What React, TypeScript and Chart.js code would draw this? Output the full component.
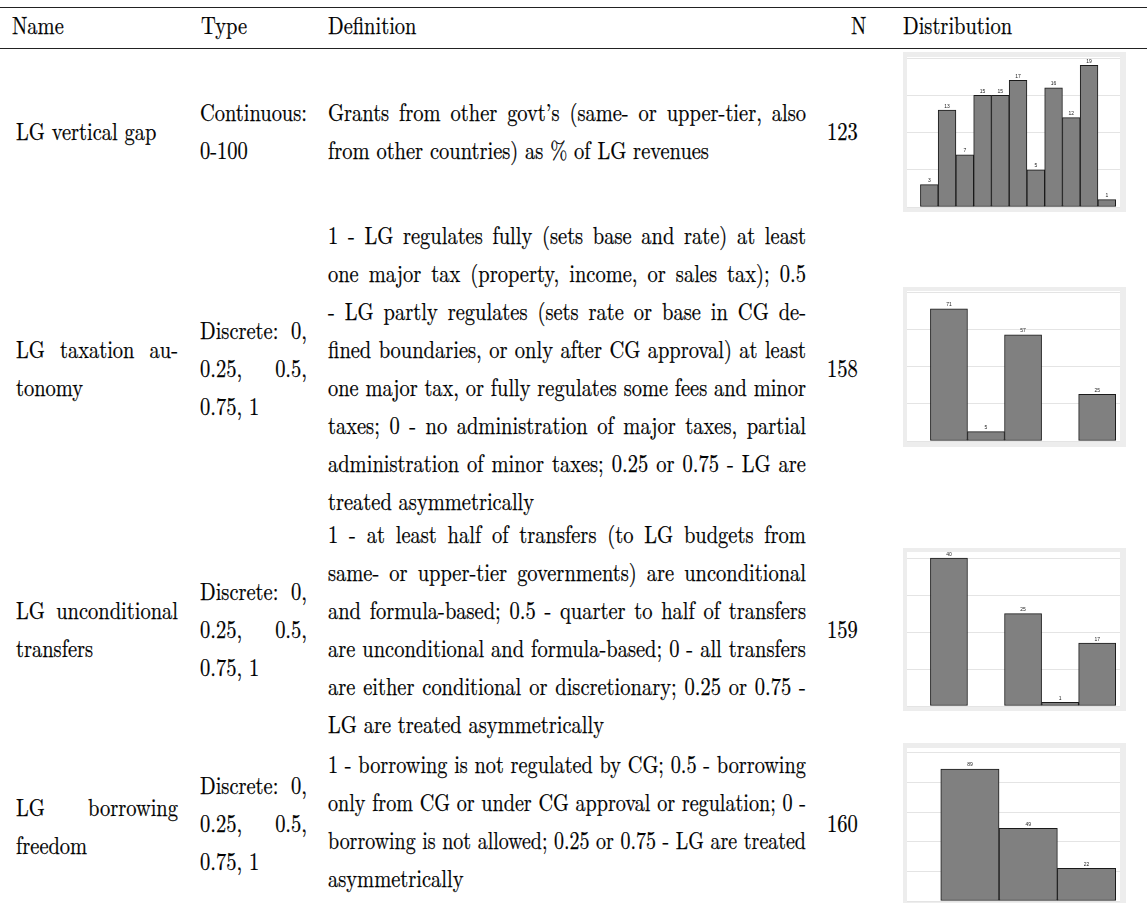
import React, { useEffect, useMemo, useRef } from "react";
import { Chart, registerables } from "chart.js";
Chart.register(...registerables);

const FS = 24.5;

// ---------- data ----------
const gapBins = ["0", "9", "18", "27", "36", "45", "55", "64", "73", "82", "91"];
const gapCounts = [3, 13, 7, 15, 15, 17, 5, 16, 12, 19, 1];
const taxBins = ["0", "0.25", "0.5", "0.75", "1"];
const taxCounts = [71, 5, 57, 0, 25];
const transferBins = ["0", "0.25", "0.5", "0.75", "1"];
const transferCounts = [40, 0, 25, 1, 17];
const borrowBins = ["0", "0.5", "1"];
const borrowCounts = [89, 49, 22];

const headers = ["Name", "Type", "Definition", "N", "Distribution"];
const names = [["LG vertical gap"], ["LG taxation au-", "tonomy"], ["LG unconditional", "transfers"], ["LG borrowing", "freedom"]];
const types = [["Continuous:", "0-100"], ["Discrete: 0,", "0.25, 0.5,", "0.75, 1"], ["Discrete: 0,", "0.25, 0.5,", "0.75, 1"], ["Discrete: 0,", "0.25, 0.5,", "0.75, 1"]];
const defs = [
  ["Grants from other govt’s (same- or upper-tier, also", "from other countries) as % of LG revenues"],
  [
    "1 - LG regulates fully (sets base and rate) at least",
    "one major tax (property, income, or sales tax); 0.5",
    "- LG partly regulates (sets rate or base in CG de-",
    "fined boundaries, or only after CG approval) at least",
    "one major tax, or fully regulates some fees and minor",
    "taxes; 0 - no administration of major taxes, partial",
    "administration of minor taxes; 0.25 or 0.75 - LG are",
    "treated asymmetrically",
  ],
  [
    "1 - at least half of transfers (to LG budgets from",
    "same- or upper-tier governments) are unconditional",
    "and formula-based; 0.5 - quarter to half of transfers",
    "are unconditional and formula-based; 0 - all transfers",
    "are either conditional or discretionary; 0.25 or 0.75 -",
    "LG are treated asymmetrically",
  ],
  [
    "1 - borrowing is not regulated by CG; 0.5 - borrowing",
    "only from CG or under CG approval or regulation; 0 -",
    "borrowing is not allowed; 0.25 or 0.75 - LG are treated",
    "asymmetrically",
  ],
];
const nValues = ["123", "158", "159", "160"];

// ---------- layout ----------
const LS = 38;
const rowCenters = [132, 369, 630, 824];
const defFirst = [113, 236, 535, 765];
const nameCenters = [132, 369, 630, 827];

let mctx: CanvasRenderingContext2D | null = null;
function ctx2d() {
  if (!mctx) mctx = document.createElement("canvas").getContext("2d");
  return mctx!;
}
function pickFamily(): string {
  const c = ctx2d();
  const test = "abcdefghijklmnopqrstuvwxyz ABCDEFGHIJ 0123456789 (),;-";
  const wOf = (f: string) => {
    c.font = `40px ${f}`;
    return c.measureText(test).width;
  };
  const cands = ["Latin Modern Roman", "CMU Serif", "Liberation Serif", "Noto Serif"];
  for (const f of cands) {
    if (wOf(`'${f}', monospace`) !== wOf("monospace")) return `'${f}', serif`;
  }
  return "serif";
}
function measure(t: string, family: string) {
  const c = ctx2d();
  c.font = `${FS}px ${family}`;
  return c.measureText(t).width;
}

type Fnt = { family: string; k: number };

function Line({ text, x, cy, w, justify, f }: { text: string; x: number; cy: number; w?: number; justify?: boolean; f: Fnt }) {
  const base: React.CSSProperties = {
    position: "absolute",
    left: x,
    top: cy - 17,
    height: 30,
    lineHeight: "30px",
    whiteSpace: "pre",
    transformOrigin: "left center",
    fontFamily: f.family,
    fontSize: FS,
    WebkitTextStroke: "0.25px #000",
  };
  const natural = measure(text, f.family);
  if (!justify || !w) {
    return <div style={{ ...base, transform: `scaleX(${f.k})` }}>{text}</div>;
  }
  const words = text.split(" ");
  const s = Math.min(f.k, w / natural);
  return (
    <div
      style={{
        ...base,
        width: w / s,
        display: "flex",
        justifyContent: words.length > 1 ? "space-between" : "flex-start",
        transform: `scaleX(${s})`,
      }}
    >
      {words.map((wd, i) => (
        <span key={i}>{wd}</span>
      ))}
    </div>
  );
}

function Cell({ lines, x, w, center, first, f }: { lines: string[]; x: number; w: number; center?: number; first?: number; f: Fnt }) {
  const n = lines.length;
  const start = first !== undefined ? first : (center as number) - ((n - 1) * LS) / 2;
  return (
    <>
      {lines.map((t, i) => (
        <Line key={i} text={t} x={x} cy={start + i * LS} w={w} justify={i < n - 1} f={f} />
      ))}
    </>
  );
}

const panelPlugin = {
  id: "panelBg",
  beforeDraw(chart: any) {
    const { ctx, chartArea: a, width, height } = chart;
    ctx.save();
    ctx.fillStyle = "#ededed";
    ctx.fillRect(0, 0, width, height);
    ctx.fillStyle = "#ffffff";
    ctx.fillRect(a.left, a.top - 1, a.right - a.left, a.bottom - a.top + 2);
    ctx.restore();
  },
};

const labelPlugin = {
  id: "valueLabels",
  afterDatasetsDraw(chart: any) {
    const { ctx } = chart;
    const meta = chart.getDatasetMeta(0);
    const data = chart.data.datasets[0].data;
    ctx.save();
    ctx.font = "5px 'Liberation Sans', Arial, sans-serif";
    ctx.fillStyle = "#222";
    ctx.textAlign = "center";
    ctx.textBaseline = "bottom";
    meta.data.forEach((el: any, i: number) => {
      const v = data[i].y;
      if (!v) return;
      ctx.fillText(String(v), el.x, el.y - 1.5);
    });
    ctx.restore();
  },
};

function MiniHist({
  bins,
  counts,
  top,
  height,
  yMax,
  step,
  padL,
  padR,
  padTop,
  padBottom,
}: {
  bins: string[];
  counts: number[];
  top: number;
  height: number;
  yMax: number;
  step: number;
  padL: number;
  padR: number;
  padTop: number;
  padBottom: number;
}) {
  const ref = useRef<HTMLCanvasElement>(null);
  useEffect(() => {
    if (!ref.current) return;
    const chart = new Chart(ref.current, {
      type: "bar",
      data: {
        labels: bins,
        datasets: [
          {
            data: counts.map((c, i) => ({ x: i, y: c })),
            backgroundColor: "#808080",
            borderColor: "#1a1a1a",
            borderWidth: 1,
            borderSkipped: false,
            barPercentage: 1,
            categoryPercentage: 1,
          },
        ],
      },
      options: {
        responsive: false,
        animation: false,
        events: [],
        layout: { padding: { left: 4, right: 6, top: padTop, bottom: padBottom } },
        plugins: { legend: { display: false }, tooltip: { enabled: false } },
        scales: {
          x: {
            type: "linear",
            display: false,
            offset: false,
            min: -0.5 - padL,
            max: counts.length - 0.5 + padR,
            ticks: { stepSize: 1, includeBounds: false },
            grid: { display: false },
          },
          y: {
            min: 0,
            max: yMax,
            ticks: { display: false, stepSize: step, includeBounds: false },
            border: { display: false },
            grid: { color: "#e4e4e4", lineWidth: 1, drawTicks: false },
            afterFit: (s: any) => {
              s.width = 0;
            },
          },
        },
      } as any,
      plugins: [panelPlugin, labelPlugin],
    });
    return () => chart.destroy();
  }, []);
  return (
    <canvas
      ref={ref}
      width={223}
      height={height}
      style={{ position: "absolute", left: 903, top, width: 223, height }}
    />
  );
}

export default function App() {
  const f: Fnt = useMemo(() => {
    const family = pickFamily();
    const k = 276 / measure("LG are treated asymmetrically", family);
    return { family, k };
  }, []);
  const rule = (top: number, h: number): React.CSSProperties => ({
    position: "absolute",
    left: 0,
    width: 1147,
    top,
    height: h,
    background: "#222",
  });
  const headerX = [12, 201, 328, 851, 903];
  return (
    <div
      style={{
        position: "fixed",
        inset: 0,
        overflow: "hidden",
        background: "#fff",
        fontFamily: f.family,
        fontSize: FS,
        color: "#000",
      }}
    >
      <div style={rule(7, 1.4)} />
      <div style={rule(48, 1.2)} />
      {headers.map((h, i) => (
        <Line key={h} text={h} x={headerX[i]} cy={26} f={f} />
      ))}
      {names.map((l, r) => (
        <Cell key={"n" + r} lines={l} x={16} w={162} center={nameCenters[r]} f={f} />
      ))}
      {types.map((l, r) => (
        <Cell key={"t" + r} lines={l} x={200} w={107} center={rowCenters[r]} f={f} />
      ))}
      {defs.map((l, r) => (
        <Cell key={"d" + r} lines={l} x={328} w={478} first={defFirst[r]} f={f} />
      ))}
      {nValues.map((v, r) => (
        <Line key={"v" + r} text={v} x={827} cy={rowCenters[r]} f={f} />
      ))}
      <MiniHist bins={gapBins} counts={gapCounts} top={52} height={160} yMax={20} step={5} padL={0.756} padR={0.243} padTop={6} padBottom={5} />
      <MiniHist bins={taxBins} counts={taxCounts} top={287} height={160} yMax={80} step={20} padL={0.632} padR={0.116} padTop={5} padBottom={6} />
      <MiniHist bins={transferBins} counts={transferCounts} top={548} height={163} yMax={41.4} step={10} padL={0.632} padR={0.116} padTop={5} padBottom={5} />
      <MiniHist bins={borrowBins} counts={borrowCounts} top={743} height={163} yMax={102.5} step={20} padL={0.579} padR={0.074} padTop={6} padBottom={5} />
    </div>
  );
}
